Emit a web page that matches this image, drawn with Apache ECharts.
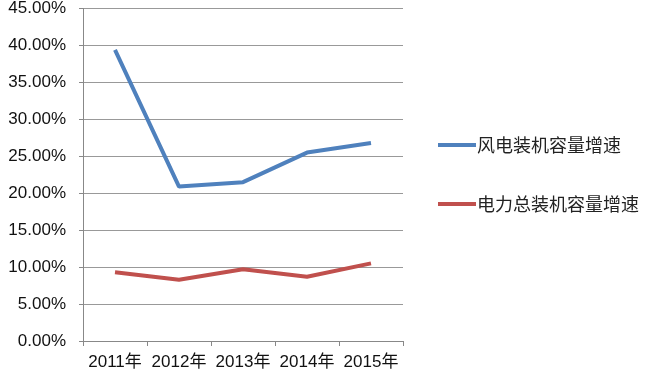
<!DOCTYPE html>
<html><head><meta charset="utf-8">
<script src="https://cdn.jsdelivr.net/npm/echarts@6/dist/echarts.min.js"></script>
<style>html,body{margin:0;padding:0;background:#fff}#c{width:657px;height:381px}</style>
</head><body><div id="c"></div>
<script>
const categories = ['2011年','2012年','2013年','2014年','2015年'];
const windGrowth = [39.4, 20.9, 21.5, 25.5, 26.8];
const totalGrowth = [9.3, 8.3, 9.7, 8.7, 10.5];
const seriesNames = ['风电装机容量增速','电力总装机容量增速'];

const chart = echarts.init(document.getElementById('c'), null, {renderer:'canvas'});
chart.setOption({
  animation:false,
  grid:{left:83, right:254, top:7.5, bottom:40, containLabel:false},
  legend:{
    orient:'vertical', left:433, top:131, itemGap:41,
    itemWidth:38, itemHeight:4, icon:'rect',
    textStyle:{fontSize:18, color:'#222', fontFamily:'Noto Sans CJK SC', padding:[0,0,0,-4]},
    data:seriesNames
  },
  xAxis:{
    type:'category', data:categories, boundaryGap:true,
    axisLine:{lineStyle:{color:'#888', width:1}},
    axisTick:{show:true, length:5, lineStyle:{color:'#888'}},
    axisLabel:{interval:0, fontSize:17, color:'#111', margin:13, fontFamily:'Liberation Sans, Noto Sans CJK SC'}
  },
  yAxis:{
    type:'value', min:0, max:45, interval:5,
    axisLine:{show:true, lineStyle:{color:'#888', width:1}},
    axisTick:{show:true, length:4, lineStyle:{color:'#888'}},
    splitLine:{lineStyle:{color:'#999', width:1}},
    axisLabel:{fontSize:17, color:'#111', margin:17, fontFamily:'Liberation Sans',
      formatter:v=>v.toFixed(2)+'%'}
  },
  series:[
    {name:seriesNames[0], type:'line', data:windGrowth, symbol:'none',
     lineStyle:{color:'#4F81BD', width:4}, itemStyle:{color:'#4F81BD'}},
    {name:seriesNames[1], type:'line', data:totalGrowth, symbol:'none',
     lineStyle:{color:'#C0504D', width:4}, itemStyle:{color:'#C0504D'}}
  ]
});
</script></body></html>
